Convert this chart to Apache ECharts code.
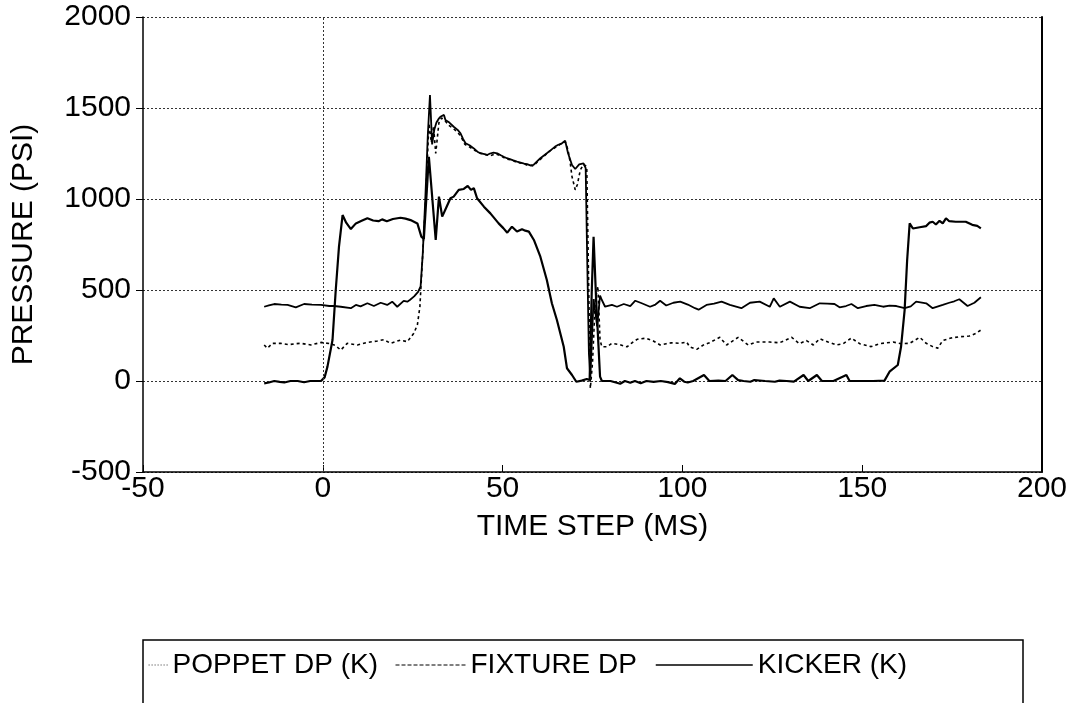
<!DOCTYPE html>
<html>
<head>
<meta charset="utf-8">
<script src="https://cdn.jsdelivr.net/npm/echarts@6/dist/echarts.min.js"></script>
<style>
html,body{margin:0;padding:0;background:#fff;}
#chart{width:1073px;height:703px;}
</style>
</head>
<body>
<div id="chart"></div>
<script>
// ---- data ----
const xTicks = [-50, 0, 50, 100, 150, 200];
const yTicks = [-500, 0, 500, 1000, 1500, 2000];
const seriesNames = ['POPPET DP (K)', 'FIXTURE DP', 'KICKER (K)'];

const poppetT = [-16.3,-15,-13.5,-11.5,-9.8,-7.5,-5.2,-3,-0.5,1.8,3.1,5,7.8,9.2,10.5,12.4,14.2,16.1,17.9,19.3,20.7,22.5,23.5,24.2,25.4,26.5,27.2,27.8,28.5,29.2,29.8,30.4,31,31.6,32.2,32.7,33.7,34.1,35.2,36.4,37.5,38.3,39,39.7,40.8,42,43,43.8,44.7,45.7,46.5,47.5,48.5,49.5,50.3,51.2,52.2,53,54,55,56,56.8,57.7,58.6,59.5,60.5,61.4,62.3,63.5,64.6,65.5,66.5,67.4,68.2,69.3,70.2,70.7,71.3,71.6,72.5,73.1,73.5,74,74.4,75.3,76.3,77.1,77.6,78.5,80.4,81.8,83.7,85.5,86.9,88.7,91,92.5,93.8,95.5,97.5,99.4,101.5,103.5,104.5,106.7,108.8,110.9,113.2,116.4,118.8,121.5,124.3,125.4,127.1,129.9,132.6,135.4,138.2,140.3,142.3,143.7,145.5,147,148.8,151.1,153.4,155.8,157.6,159.5,161.8,163.5,165,167.8,169.6,172.4,174.2,175.6,177,179.3,181.2,183];
const poppetP = [408,415,423,420,418,405,423,420,418,412,412,408,400,418,410,427,412,430,418,436,408,440,436,445,465,490,520,700,1000,1350,1571,1300,1380,1420,1440,1452,1462,1434,1420,1397,1380,1361,1330,1306,1295,1278,1260,1251,1248,1242,1250,1255,1251,1240,1232,1224,1218,1212,1205,1200,1195,1192,1185,1187,1205,1224,1238,1251,1270,1288,1298,1306,1320,1251,1187,1165,1159,1190,1196,1196,1170,700,150,20,450,300,470,445,408,418,408,423,412,441,427,408,420,441,415,430,436,420,400,392,418,425,436,418,400,430,436,408,454,408,436,408,400,427,425,423,405,412,423,400,412,418,408,414,412,400,410,436,427,400,418,430,438,449,412,430,460];

const fixtureT = [-16.3,-15.4,-14,-11.7,-9.5,-7.5,-6.1,-3.3,-0.5,2,3.5,5,6.8,9.6,12.4,15.2,17,18.9,21.6,23.5,25.3,26.3,27,27.4,28.6,29.5,30.2,30.8,31.4,32.3,33,34,35,36.4,37.6,38.5,39.5,40.5,42,43.5,45,46.5,48,49.5,51,52.5,54,55.5,57,58.6,60,61.5,63,64.6,66,67.4,68.2,68.8,69.3,70.2,70.8,71.6,72.5,73.4,74.4,75,75.8,76.5,77.1,77.6,79,80.4,82.5,84.6,86,87.4,89.8,91.9,93.8,95.5,97,99.3,101.2,102,104,106,107.5,110.4,112.3,115.5,118.3,120.5,124.3,127,130.4,132.5,134.5,136.4,138.2,140.5,142.8,144.7,147,149.3,152.5,154.8,158.6,160.9,163.2,166,167.8,169.6,171,172.4,174.7,177,179.8,181.7,183];
const fixtureP = [198,180,207,207,200,205,207,198,212,205,195,170,207,198,212,220,227,207,225,216,262,308,408,555,995,1416,1310,1400,1251,1420,1445,1430,1405,1385,1365,1340,1300,1290,1270,1255,1245,1238,1248,1238,1220,1215,1200,1196,1185,1182,1210,1235,1262,1282,1300,1315,1270,1200,1123,1050,1080,1159,1190,1178,-40,100,450,520,225,188,188,207,200,188,210,229,235,220,198,205,210,207,214,188,174,200,210,240,198,240,198,214,214,210,240,205,222,198,232,214,198,205,236,205,189,205,214,205,207,240,207,189,180,222,236,243,247,262,280];

const kickerT = [-16.3,-15,-13.5,-12,-10.7,-9,-7,-5.2,-3.5,-2,-0.5,0.5,1.3,2.7,3.6,4.5,5.5,6.5,7.8,9.2,10.8,12.4,14,15.5,16.5,17.8,19.5,21.6,23,24.4,26.3,27.4,28.1,29.5,31.4,32.3,33.2,34.5,35.5,36.4,37.8,39.2,40.3,41.2,42,42.9,44.8,46.6,48.9,50.2,51.3,52.6,54,55.4,56.3,57.3,58.7,60.5,62.3,63.7,65.1,67,67.9,69.3,70.5,70.9,72,73.4,74.2,74.8,75.3,76,77.1,77.6,80,81.5,82.7,84,85.5,86.8,88.4,90,92,94,96,97.9,99.3,100.5,101.5,103,106,107.5,110,112,113.9,115.5,117,118.9,120,123,125.7,127,129,131,133.7,135,137.4,138.8,142,145.6,146.5,150,153,156.2,157.6,159.9,160.8,161.8,162.5,163.2,164.1,166,167.8,168.7,169.6,170.5,171.5,172.4,173.3,174.2,176,178.8,180.6,182,183];
const kickerP = [-13,-8,0,-5,-8,0,0,-7,0,0,0,20,79,225,500,738,912,870,835,866,880,894,882,878,888,878,890,897,892,884,866,793,780,1232,775,1013,903,960,1004,1013,1050,1055,1072,1050,1060,1004,958,921,866,840,815,848,821,834,826,821,775,683,555,427,335,188,70,33,-4,0,2,11,5,500,793,450,24,0,0,-8,-15,0,-10,0,-12,0,-5,0,-6,-16,15,-4,-8,0,33,0,2,0,33,5,0,-4,5,0,-4,2,0,-3,33,0,33,0,0,33,0,0,0,2,51,88,188,390,665,866,838,845,851,870,875,860,880,866,894,878,875,875,858,852,839];

function zip(t, p){ return t.map((v,i)=>[v, p[i]]); }

const FONT = 'Liberation Sans, Arial, sans-serif';
const FS = 30;
const LFS = 28;
const chart = echarts.init(document.getElementById('chart'), null, {renderer:'canvas'});

const legendBase = {top: 651, padding: 0, itemHeight: 14,
  itemStyle: {opacity: 0, borderWidth: 0},
  textStyle: {fontFamily: FONT, fontSize: LFS, color: '#000'}};

const option = {
  backgroundColor: '#fff',
  animation: false,
  color: ['#000', '#000', '#000'],
  textStyle: {fontFamily: FONT, color: '#000'},
  grid: {left: 143, right: 31, top: 17, bottom: 231, containLabel: false},
  xAxis: {
    type: 'value', min: xTicks[0], max: xTicks[xTicks.length-1], interval: 50,
    name: 'TIME STEP (MS)', nameLocation: 'middle', nameGap: 40,
    nameTextStyle: {fontFamily: FONT, fontSize: FS, color: '#000'},
    axisLine: {show: true, onZero: false, lineStyle: {color: '#000', width: 1.5}},
    axisTick: {show: true, inside: true, length: 7, lineStyle: {color: '#000', width: 1}},
    axisLabel: {fontFamily: FONT, fontSize: FS, color: '#000', margin: 2, formatter: v => String(v)},
    splitLine: {show: false}
  },
  yAxis: [{
    type: 'value', min: yTicks[0], max: yTicks[yTicks.length-1], interval: 500,
    name: 'PRESSURE (PSI)', nameLocation: 'middle', nameGap: 104, nameRotate: 90,
    nameTextStyle: {fontFamily: FONT, fontSize: FS, color: '#000'},
    axisLine: {show: true, onZero: false, lineStyle: {color: '#000', width: 1.5}},
    axisTick: {show: true, inside: false, length: 7, lineStyle: {color: '#000', width: 1}},
    axisLabel: {fontFamily: FONT, fontSize: FS, color: '#000', margin: 12, formatter: v => String(v)},
    splitLine: {show: true, lineStyle: {color: '#333', width: 1, type: [2, 2]}}
  }, {
    type: 'value', min: yTicks[0], max: yTicks[yTicks.length-1], interval: 500, position: 'right',
    axisLine: {show: true, onZero: false, lineStyle: {color: '#000', width: 2}},
    axisTick: {show: false}, axisLabel: {show: false}, splitLine: {show: false}
  }],
  legend: [
    Object.assign({}, legendBase, {data: [seriesNames[0]], left: 148, itemWidth: 19,
      lineStyle: {color: '#333', width: 1.2, type: [1, 2]}}),
    Object.assign({}, legendBase, {data: [seriesNames[1]], left: 395, itemWidth: 70,
      lineStyle: {color: '#000', width: 1, type: [4, 2]}}),
    Object.assign({}, legendBase, {data: [seriesNames[2]], left: 655, itemWidth: 97,
      lineStyle: {color: '#000', width: 1.5, type: 'solid'}})
  ],
  graphic: [{
    type: 'rect', silent: true,
    shape: {x: 143, y: 640, width: 880, height: 90},
    style: {fill: 'none', stroke: '#000', lineWidth: 1.5}
  }],
  series: [
    {name: seriesNames[0], type: 'line', symbol: 'none', data: zip(poppetT, poppetP),
     itemStyle: {color: '#000'},
     lineStyle: {color: '#000', width: 1.8, type: 'solid'}, z: 3},
    {name: seriesNames[1], type: 'line', symbol: 'none', data: zip(fixtureT, fixtureP),
     itemStyle: {color: '#000'},
     lineStyle: {color: '#000', width: 1.6, type: [3, 3]}, z: 2},
    {name: seriesNames[2], type: 'line', symbol: 'none', data: zip(kickerT, kickerP),
     itemStyle: {color: '#000'},
     lineStyle: {color: '#000', width: 2.2, type: 'solid'}, z: 4,
     markLine: {silent: true, symbol: 'none', label: {show: false},
       lineStyle: {color: '#333', width: 1, type: [2, 2]},
       data: [{xAxis: 0}]}}
  ]
};
chart.setOption(option);
</script>
</body>
</html>
